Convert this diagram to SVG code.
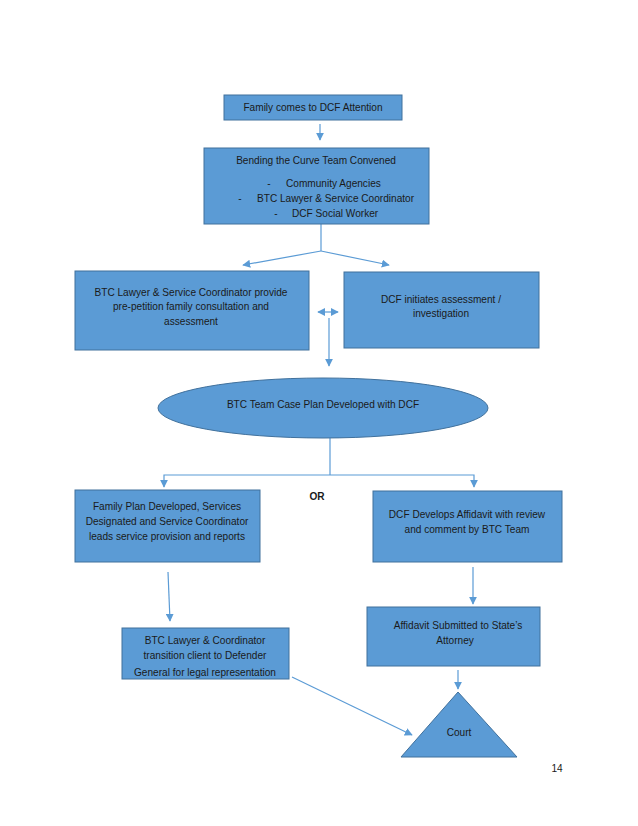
<svg xmlns="http://www.w3.org/2000/svg" width="638" height="826" viewBox="0 0 638 826">
<defs>
<style>
.n{fill:#5B9BD5;stroke:#41719C;stroke-width:1}
.t{font-family:"Liberation Sans",Arial,sans-serif;font-size:10.1px;fill:#1a1a1a;text-anchor:middle}
.s{text-anchor:start}
.c{fill:none;stroke:#5B9BD5;stroke-width:1.2}
</style>
<marker id="ah" viewBox="0 0 10 10" refX="9" refY="5" markerWidth="8" markerHeight="8" markerUnits="userSpaceOnUse" orient="auto-start-reverse">
<path d="M0,0 L10,5 L0,10 z" fill="#5B9BD5"/>
</marker>
<clipPath id="clip7"><rect x="122" y="628" width="167" height="51"/></clipPath>
</defs>
<rect width="638" height="826" fill="#fff"/>
<g id="connectors">
<line class="c" x1="320" y1="124" x2="320" y2="140" marker-end="url(#ah)"/>
<polyline class="c" points="321,224 321,251"/>
<line class="c" x1="321" y1="251" x2="243" y2="265" marker-end="url(#ah)"/>
<line class="c" x1="321" y1="251" x2="389" y2="265" marker-end="url(#ah)"/>
<line class="c" x1="318" y1="312" x2="338" y2="312" marker-start="url(#ah)" marker-end="url(#ah)"/>
<line class="c" x1="329" y1="318" x2="329" y2="366" marker-end="url(#ah)"/>
<polyline class="c" points="330,438 330,475"/>
<polyline class="c" points="164,487 164,475 474,475 474,487" marker-start="url(#ah)" marker-end="url(#ah)"/>
<line class="c" x1="168" y1="572" x2="170" y2="621" marker-end="url(#ah)"/>
<line class="c" x1="473" y1="567" x2="473" y2="604" marker-end="url(#ah)"/>
<line class="c" x1="458" y1="670" x2="458" y2="689" marker-end="url(#ah)"/>
<line class="c" x1="292" y1="677" x2="412" y2="735" marker-end="url(#ah)"/>
</g>
<g id="n1">
<rect class="n" x="224" y="95" width="178" height="25"/>
<text class="t" x="313" y="111">Family comes to DCF Attention</text>
</g>
<g id="n2">
<rect class="n" x="204" y="148" width="225" height="76"/>
<text class="t" x="316" y="164">Bending the Curve Team Convened</text>
<text class="t" x="269" y="187">-</text>
<text class="t s" x="286" y="187">Community Agencies</text>
<text class="t" x="240" y="202">-</text>
<text class="t s" x="257" y="202">BTC Lawyer &amp; Service Coordinator</text>
<text class="t" x="276" y="217">-</text>
<text class="t s" x="292" y="217">DCF Social Worker</text>
</g>
<g id="n3">
<rect class="n" x="75" y="271" width="234" height="79"/>
<text class="t" x="191" y="296">BTC Lawyer &amp; Service Coordinator provide</text>
<text class="t" x="191" y="310">pre-petition family consultation and</text>
<text class="t" x="191" y="325">assessment</text>
</g>
<g id="n4">
<rect class="n" x="344" y="272" width="195" height="76"/>
<text class="t" x="441" y="303">DCF initiates assessment /</text>
<text class="t" x="441" y="317">investigation</text>
</g>
<g id="n5">
<ellipse class="n" cx="323" cy="408" rx="165" ry="30"/>
<text class="t" x="323" y="408">BTC Team Case Plan Developed with DCF</text>
</g>
<text class="t" x="317" y="500" style="font-weight:bold">OR</text>
<g id="n6">
<rect class="n" x="75" y="490" width="185" height="72"/>
<text class="t" x="167" y="510">Family Plan Developed, Services</text>
<text class="t" x="167" y="525">Designated and Service Coordinator</text>
<text class="t" x="167" y="540">leads service provision and reports</text>
</g>
<g id="n7">
<rect class="n" x="373" y="491" width="189" height="71"/>
<text class="t" x="467" y="518">DCF Develops Affidavit with review</text>
<text class="t" x="467" y="533">and comment by BTC Team</text>
</g>
<g id="n8">
<rect class="n" x="122" y="628" width="167" height="51"/>
<g clip-path="url(#clip7)">
<text class="t" x="205" y="644">BTC Lawyer &amp; Coordinator</text>
<text class="t" x="205" y="659">transition client to Defender</text>
<text class="t" x="205" y="676">General for legal representation</text>
</g>
</g>
<g id="n9">
<rect class="n" x="367" y="607" width="173" height="59"/>
<text class="t" x="458" y="629">Affidavit Submitted to State’s</text>
<text class="t" x="455" y="644">Attorney</text>
</g>
<g id="n10">
<polygon class="n" points="458,692 517,757 401,757"/>
<text class="t" x="459" y="736">Court</text>
</g>
<text class="t" x="557" y="772">14</text>
</svg>
